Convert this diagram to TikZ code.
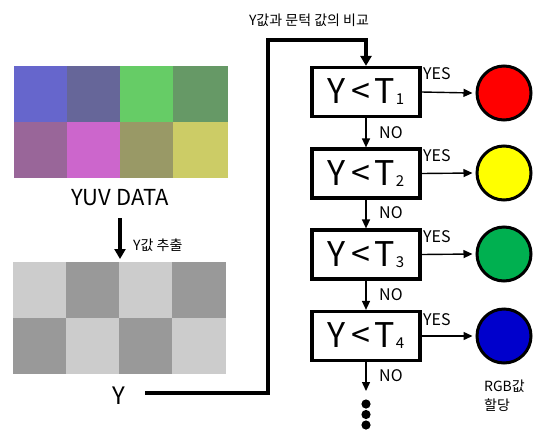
\documentclass[tikz,border=0pt]{standalone}
\usepackage{fontspec}
\setmainfont{Noto Sans CJK KR}
\usetikzlibrary{arrows.meta}
\definecolor{c11}{HTML}{6666CC}
\definecolor{c12}{HTML}{666699}
\definecolor{c13}{HTML}{66CC66}
\definecolor{c14}{HTML}{669966}
\definecolor{c21}{HTML}{996699}
\definecolor{c22}{HTML}{CC66CC}
\definecolor{c23}{HTML}{999966}
\definecolor{c24}{HTML}{CCCC66}
\definecolor{gl}{HTML}{CCCCCC}
\definecolor{gd}{HTML}{999999}
\definecolor{cred}{HTML}{FF0000}
\definecolor{cyel}{HTML}{FFFF00}
\definecolor{cgrn}{HTML}{00B050}
\definecolor{cblu}{HTML}{0000CC}
\newcommand{\ylt}[1]{Y\hspace{6pt}<\hspace{4pt}T\hspace{1pt}\raisebox{-1pt}{\fontsize{15}{16}\selectfont #1}}
\begin{document}
\begin{tikzpicture}[x=1pt,y=-1pt,
  cmp/.style={draw,line width=3.2pt,minimum width=108pt,minimum height=49pt,inner sep=0pt,font=\fontsize{34}{36}\selectfont},
  lamp/.style={draw,circle,line width=3pt,minimum size=54pt,inner sep=0pt},
  lbl/.style={font=\fontsize{16}{18}\selectfont,inner sep=0pt,anchor=west},
  small/.style={font=\fontsize{14}{16}\selectfont,inner sep=0pt},
  thin/.style={line width=1.4pt,-{Triangle[length=9pt,width=8pt]}},
  thick/.style={line width=3.2pt}]
\useasboundingbox (0,0) rectangle (538,429);
\clip (0,0) rectangle (538,429);
% colour grid
\fill[c11] (14,66) rectangle (67,122);
\fill[c12] (67,66) rectangle (120,122);
\fill[c13] (120,66) rectangle (173,122);
\fill[c14] (173,66) rectangle (228,122);
\fill[c21] (14,122) rectangle (67,178);
\fill[c22] (67,122) rectangle (120,178);
\fill[c23] (120,122) rectangle (173,178);
\fill[c24] (173,122) rectangle (228,178);
\node[font=\fontsize{22}{24}\selectfont,inner sep=0pt] (yuv) at (120,198) {YUV DATA};
% grey grid
\fill[gl] (13,262) rectangle (66,318);
\fill[gd] (66,262) rectangle (119,318);
\fill[gl] (119,262) rectangle (172,318);
\fill[gd] (172,262) rectangle (226,318);
\fill[gd] (13,318) rectangle (66,374);
\fill[gl] (66,318) rectangle (119,374);
\fill[gd] (119,318) rectangle (172,374);
\fill[gl] (172,318) rectangle (226,374);
\coordinate (ga) at (120,218);
\coordinate (gb) at (120,259);
\draw[thick,-{Triangle[length=10pt,width=11pt]}] (ga) -- (gb);
\node[small,anchor=west] (ext) at (133,245) {Y값 추출};
\node[font=\fontsize{24}{26}\selectfont,inner sep=0pt] (y) at (119,396) {Y};
% comparators
\node[cmp] (b1) at (366,92) {\ylt{1}};
\node[cmp] (b2) at (366,173.5) {\ylt{2}};
\node[cmp] (b3) at (366,254.5) {\ylt{3}};
\node[cmp] (b4) at (366,336) {\ylt{4}};
\node[small] (cmpl) at (309,20) {Y값과 문턱 값의 비교};
\coordinate (p0) at (145,393);
\coordinate (p1) at (268,393);
\coordinate (p2) at (268,40);
\coordinate (p3) at (366,40);
\draw[thick,-{Triangle[length=10pt,width=11pt]}] (p0) -- (p1) -- (p2) -- (p3) -- (b1.north);
% lamps
\node[lamp,fill=cred] (l1) at (504,93) {};
\node[lamp,fill=cyel] (l2) at (504,173) {};
\node[lamp,fill=cgrn] (l3) at (504,254) {};
\node[lamp,fill=cblu] (l4) at (504,336) {};
\foreach \i in {1,2,3,4}{
  \draw[thin] (b\i.east) -- ([xshift=-3pt]l\i.west);
}
\node[lbl] (y1) at (423,74) {YES};
\node[lbl] (y2) at (423,156) {YES};
\node[lbl] (y3) at (423,237) {YES};
\node[lbl] (y4) at (423,320) {YES};
\draw[thin] (b1.south) -- (b2.north);
\draw[thin] (b2.south) -- (b3.north);
\draw[thin] (b3.south) -- (b4.north);
\coordinate (end) at (366,391);
\draw[thin] (b4.south) -- (end);
\node[lbl] (n1) at (379,133) {NO};
\node[lbl] (n2) at (379,213) {NO};
\node[lbl] (n3) at (379,295) {NO};
\node[lbl] (n4) at (379,376) {NO};
\foreach \yy/\n in {404/d1,414.5/d2,425/d3,435/d4}{
  \fill (366,\yy) circle (4.6pt) coordinate (\n);
}
\node[small,align=left,anchor=north west,font=\fontsize{14}{19}\selectfont] (rgb) at (484,380) {RGB값\\할당};
\end{tikzpicture}
\end{document}
